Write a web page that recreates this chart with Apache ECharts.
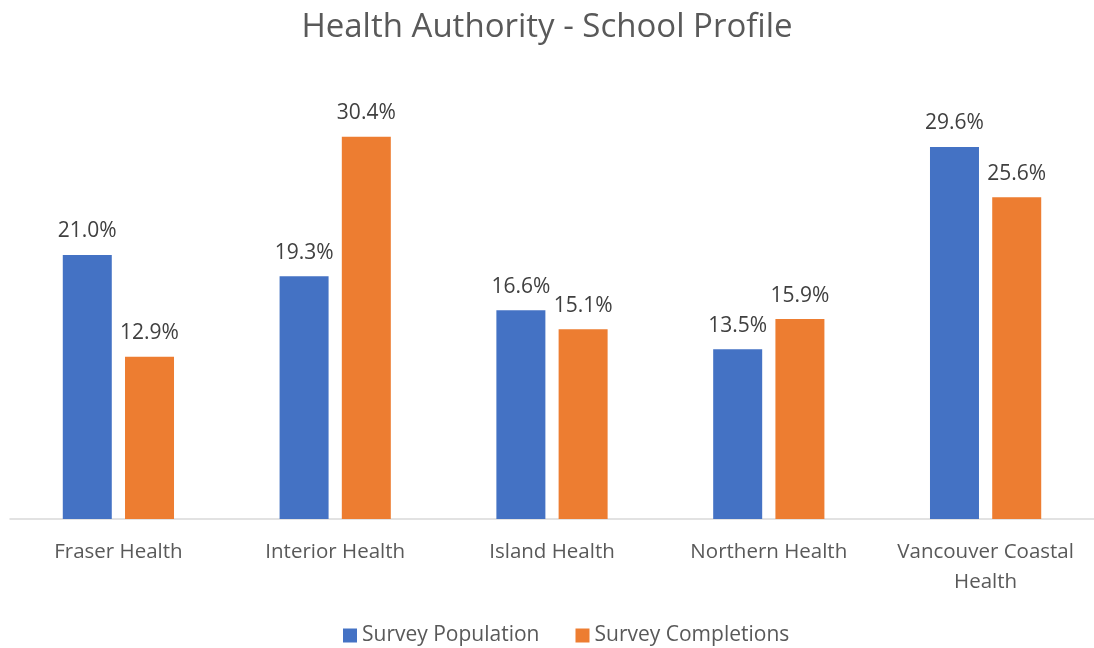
<!DOCTYPE html>
<html>
<head>
<meta charset="utf-8">
<script src="https://cdn.jsdelivr.net/npm/echarts@6/dist/echarts.min.js"></script>
<style>
html, body { margin: 0; padding: 0; background: #fff; }
#chart { width: 1094px; height: 648px; }
</style>
</head>
<body>
<div id="chart"></div>
<script>
var categories = ['Fraser Health', 'Interior Health', 'Island Health', 'Northern Health', 'Vancouver Coastal\nHealth'];
var population = [21.0, 19.3, 16.6, 13.5, 29.6];
var completions = [12.9, 30.4, 15.1, 15.9, 25.6];

var myChart = echarts.init(document.getElementById('chart'));
var labelStyle = {
  show: true,
  position: 'top',
  distance: 13,
  fontFamily: 'Open Sans',
  fontSize: 21,
  color: '#404040',
  formatter: function (p) { return p.value.toFixed(1) + '%'; }
};
option = {
  animation: false,
  title: {
    text: 'Health Authority - School Profile',
    left: 'center',
    top: 6,
    textStyle: { fontFamily: 'Open Sans', fontSize: 33, fontWeight: 'normal', color: '#595959' }
  },
  legend: {
    top: 620,
    left: 338,
    itemWidth: 14,
    itemHeight: 14,
    itemGap: 36,
    icon: 'rect',
    textStyle: { fontFamily: 'Open Sans', fontSize: 21, color: '#595959' },
    data: ['Survey Population', 'Survey Completions']
  },
  grid: { left: 10, right: 0, top: 79, bottom: 129, containLabel: false },
  xAxis: {
    type: 'category',
    data: categories,
    axisTick: { show: false },
    axisLine: { lineStyle: { color: '#d9d9d9', width: 1.5 } },
    axisLabel: { fontFamily: 'Open Sans', fontSize: 20.5, color: '#595959', margin: 18, lineHeight: 30, interval: 0 }
  },
  yAxis: {
    type: 'value',
    min: 0,
    max: 35,
    show: false,
    splitLine: { show: false }
  },
  series: [
    {
      name: 'Survey Population',
      type: 'bar',
      data: population,
      barWidth: 49,
      barGap: '27%',
      itemStyle: { color: '#4472c4' },
      label: labelStyle
    },
    {
      name: 'Survey Completions',
      type: 'bar',
      data: completions,
      barWidth: 49,
      itemStyle: { color: '#ed7d31' },
      label: labelStyle
    }
  ]
};
myChart.setOption(option);
</script>
</body>
</html>
